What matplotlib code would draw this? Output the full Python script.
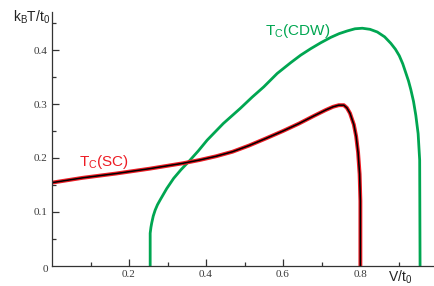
import matplotlib
matplotlib.use("Agg")
import matplotlib.pyplot as plt

plt.rcParams['mathtext.fontset'] = 'custom'
plt.rcParams['mathtext.rm'] = 'Liberation Sans'
plt.rcParams['mathtext.it'] = 'Liberation Sans:italic'

# CDW transition line (green)
cdw_V = [0.255, 0.255, 0.257, 0.259, 0.263, 0.268, 0.274, 0.281, 0.298, 0.316, 0.335,
         0.355, 0.380, 0.403, 0.445, 0.489, 0.520, 0.550, 0.585, 0.620, 0.646,
         0.672, 0.698, 0.724, 0.746, 0.767, 0.787, 0.806, 0.826, 0.845, 0.864,
         0.880, 0.892, 0.902, 0.911, 0.919, 0.926, 0.932, 0.939, 0.945, 0.951,
         0.955, 0.956]
cdw_T = [0.0, 0.060, 0.071, 0.079, 0.092, 0.103, 0.113, 0.122, 0.143, 0.162, 0.178,
         0.193, 0.213, 0.233, 0.264, 0.292, 0.313, 0.332, 0.357, 0.377, 0.391,
         0.403, 0.414, 0.424, 0.431, 0.436, 0.440, 0.441, 0.439, 0.434, 0.425,
         0.413, 0.402, 0.390, 0.375, 0.358, 0.343, 0.327, 0.305, 0.279, 0.245,
         0.196, 0.0]

# SC transition line (red data, black fit)
sc_V = [0.0, 0.08, 0.167, 0.254, 0.34, 0.383, 0.426, 0.469, 0.512, 0.555, 0.600,
        0.642, 0.680, 0.711, 0.730, 0.745, 0.758, 0.766, 0.774, 0.784, 0.790,
        0.795, 0.799, 0.801, 0.801]
sc_T = [0.154, 0.163, 0.171, 0.180, 0.190, 0.196, 0.203, 0.2115, 0.223, 0.236, 0.250,
        0.264, 0.278, 0.289, 0.295, 0.298, 0.298, 0.293, 0.283, 0.262, 0.240,
        0.210, 0.170, 0.12, 0.0]

x_ticks = [0.2, 0.4, 0.6, 0.8]
y_ticks = [0.1, 0.2, 0.3, 0.4]

fig = plt.figure(figsize=(4.34, 2.86), dpi=100)
ax = fig.add_axes([52/434, 20.5/286, (433-52)/434, (265.5-12)/286])

green = '#00a651'
red = '#ed1c24'
ax.plot(cdw_V, cdw_T, color=green, lw=2.0, solid_joinstyle='round')
ax.plot(sc_V, sc_T, color=red, lw=2.8, solid_joinstyle='round')
ax.plot(sc_V, sc_T, color='black', lw=1.1, solid_joinstyle='round')

ax.set_xlim(0, (433-52)/385)
ax.set_ylim(0, (265.5-12)/538)

axcol = '#333333'
for s in ['top', 'right']:
    ax.spines[s].set_visible(False)
for s in ['left', 'bottom']:
    ax.spines[s].set_color(axcol)
    ax.spines[s].set_linewidth(0.9)

ax.set_xticks(x_ticks)
ax.set_xticklabels([f'{v:g}' for v in x_ticks])
ax.set_xticks([0.1, 0.3, 0.5, 0.7, 0.9], minor=True)
ax.set_yticks(y_ticks)
ax.set_yticklabels([f'{v:g}' for v in y_ticks])
ax.set_yticks([0.05, 0.15, 0.25, 0.35, 0.45], minor=True)
ax.tick_params(which='both', direction='in', color=axcol, width=0.9,
               labelsize=8, labelcolor='#3a3a3a', pad=3)
ax.tick_params(which='major', length=5)
ax.tick_params(which='minor', length=3)
for lab in ax.get_xticklabels() + ax.get_yticklabels():
    lab.set_family('Liberation Serif')
ax.text(-0.01, -0.008, '0', ha='right', va='center', fontsize=8,
        family='Liberation Serif', color='#3a3a3a', clip_on=False)

ax.text(0.070, 0.185, r'T$_\mathrm{C}$(SC)', color=red, fontsize=11,
        family='Liberation Sans', va='baseline')
ax.text(0.553, 0.428, r'T$_\mathrm{C}$(CDW)', color=green, fontsize=11,
        family='Liberation Sans', va='baseline')

fig.text(13/434, 1 - 22/286, r'k$_\mathrm{B}$T/t$_0$', fontsize=10,
         family='Liberation Sans', va='baseline', color='#222222')
fig.text(388/434, 1 - 282/286, r'V/t$_0$', fontsize=10,
         family='Liberation Sans', va='baseline', color='#222222')

fig.savefig('out.png', dpi=100)
